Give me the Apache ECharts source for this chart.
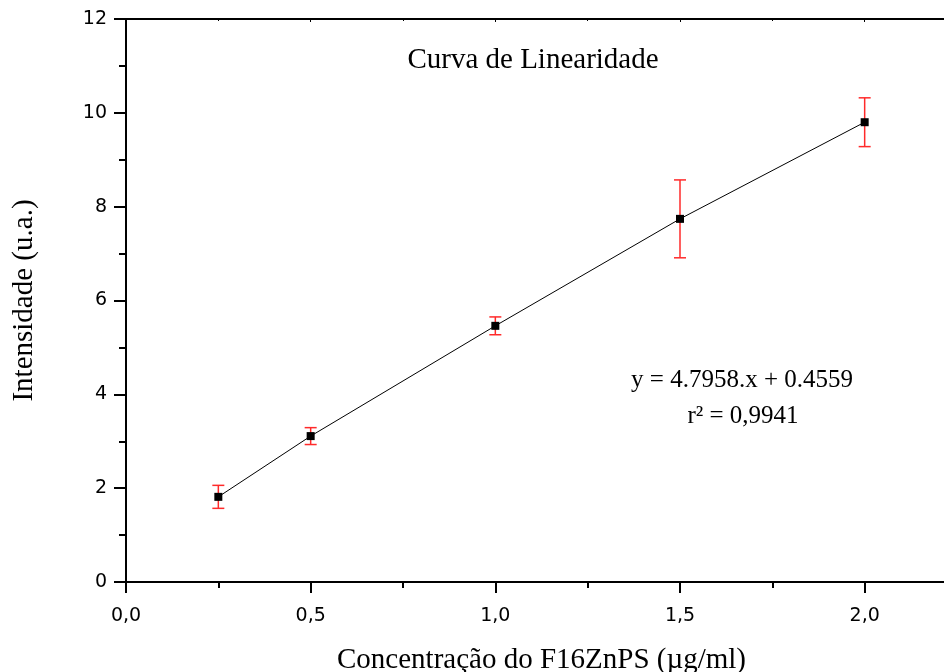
<!DOCTYPE html>
<html lang="pt">
<head>
    <meta charset="UTF-8">
    <title>Curva de Linearidade</title>
    <style>
        html, body { margin: 0; padding: 0; background: #fff; }
    </style>
</head>
<body>
<div id="main" style="width: 944px;height:672px;"></div>
<script src="https://cdn.jsdelivr.net/npm/echarts@6/dist/echarts.min.js"></script>
<script>
    // dados
    var concentracao = [0.25, 0.5, 1.0, 1.5, 2.0];
    var intensidade = [1.815, 3.11, 5.46, 7.74, 9.80];
    var desvio = [0.245, 0.18, 0.19, 0.83, 0.52];
    var xTickLabels = ['0,0', '0,5', '1,0', '1,5', '2,0'];
    var yTickLabels = ['0', '2', '4', '6', '8', '10', '12'];

    var pontos = [];
    var barras = [];
    for (var i = 0; i < concentracao.length; i++) {
        pontos.push([concentracao[i], intensidade[i]]);
        barras.push([concentracao[i], intensidade[i] - desvio[i], intensidade[i] + desvio[i]]);
    }

    var serif = '"Liberation Serif", "Times New Roman", serif';
    var sans = '"DejaVu Sans", sans-serif';

    function xLabel(v) {
        var k = Math.round(v / 0.5);
        if (Math.abs(v - k * 0.5) > 1e-6 || k >= xTickLabels.length) return '';
        return xTickLabels[k];
    }

    var myChart = echarts.init(document.getElementById('main'));
    var option = {
        animation: false,
        backgroundColor: '#fff',
        // o quadro do gráfico continua além da borda direita da imagem
        grid: { left: 126, top: 19, width: 831, height: 563, outerBoundsMode: 'none' },
        xAxis: [{
            type: 'value',
            position: 'bottom',
            min: 0, max: 2.25, interval: 0.5,
            name: 'Concentração do F16ZnPS (µg/ml)',
            nameLocation: 'middle',
            nameGap: 64,
            nameTextStyle: { fontFamily: serif, fontSize: 29, color: '#000' },
            axisLine: { show: true, onZero: false, lineStyle: { color: '#000', width: 2 } },
            axisTick: { show: true, inside: false, length: 11, lineStyle: { color: '#000', width: 2 } },
            minorTick: { show: true, splitNumber: 2, length: 6, lineStyle: { color: '#000', width: 2 } },
            axisLabel: { margin: 25, fontFamily: sans, fontSize: 19, color: '#000', formatter: xLabel },
            splitLine: { show: false }
        }, {
            type: 'value',
            position: 'top',
            min: 0, max: 2.25, interval: 0.5,
            axisLine: { show: true, onZero: false, lineStyle: { color: '#000', width: 2 } },
            axisTick: { show: true, inside: true, length: 3, lineStyle: { color: '#000', width: 1 } },
            minorTick: { show: true, splitNumber: 2, length: 2, lineStyle: { color: '#000', width: 1 } },
            axisLabel: { show: false },
            splitLine: { show: false }
        }],
        yAxis: {
            type: 'value',
            min: 0, max: 12, interval: 2,
            name: 'Intensidade (u.a.)',
            nameLocation: 'middle',
            nameGap: 87,
            nameRotate: 90,
            nameTextStyle: { fontFamily: serif, fontSize: 29, color: '#000' },
            axisLine: { show: true, onZero: false, lineStyle: { color: '#000', width: 2 } },
            axisTick: { show: true, inside: false, length: 12, lineStyle: { color: '#000', width: 2 } },
            minorTick: { show: true, splitNumber: 2, length: 7, lineStyle: { color: '#000', width: 2 } },
            axisLabel: {
                margin: 19, fontFamily: sans, fontSize: 19, color: '#000',
                formatter: function (v) { return yTickLabels[Math.round(v / 2)]; }
            },
            splitLine: { show: false }
        },
        graphic: [
            {
                type: 'text', x: 533, y: 60,
                style: {
                    text: 'Curva de Linearidade', font: '29px ' + serif, fill: '#000',
                    align: 'center', verticalAlign: 'middle'
                }
            },
            {
                type: 'text', x: 742, y: 380,
                style: {
                    text: 'y = 4.7958.x + 0.4559', font: '25px ' + serif, fill: '#000',
                    align: 'center', verticalAlign: 'middle'
                }
            },
            {
                type: 'text', x: 743, y: 416,
                style: {
                    text: 'r² = 0,9941', font: '25px ' + serif, fill: '#000',
                    align: 'center', verticalAlign: 'middle'
                }
            }
        ],
        series: [
            {
                type: 'custom',
                name: 'erro',
                z: 2,
                data: barras,
                renderItem: function (params, api) {
                    var x = api.value(0);
                    var lo = api.coord([x, api.value(1)]);
                    var hi = api.coord([x, api.value(2)]);
                    var w = 6;
                    var st = { stroke: '#ff2a2a', lineWidth: 1.5 };
                    return {
                        type: 'group',
                        children: [
                            { type: 'line', shape: { x1: lo[0], y1: lo[1], x2: hi[0], y2: hi[1] }, style: st },
                            { type: 'line', shape: { x1: lo[0] - w, y1: lo[1], x2: lo[0] + w, y2: lo[1] }, style: st },
                            { type: 'line', shape: { x1: hi[0] - w, y1: hi[1], x2: hi[0] + w, y2: hi[1] }, style: st }
                        ]
                    };
                }
            },
            {
                type: 'line',
                name: 'Intensidade',
                z: 3,
                data: pontos,
                symbol: 'rect',
                symbolSize: 8,
                showSymbol: true,
                itemStyle: { color: '#000' },
                lineStyle: { color: '#000', width: 1 }
            }
        ]
    };
    myChart.setOption(option);
</script>
</body>
</html>
